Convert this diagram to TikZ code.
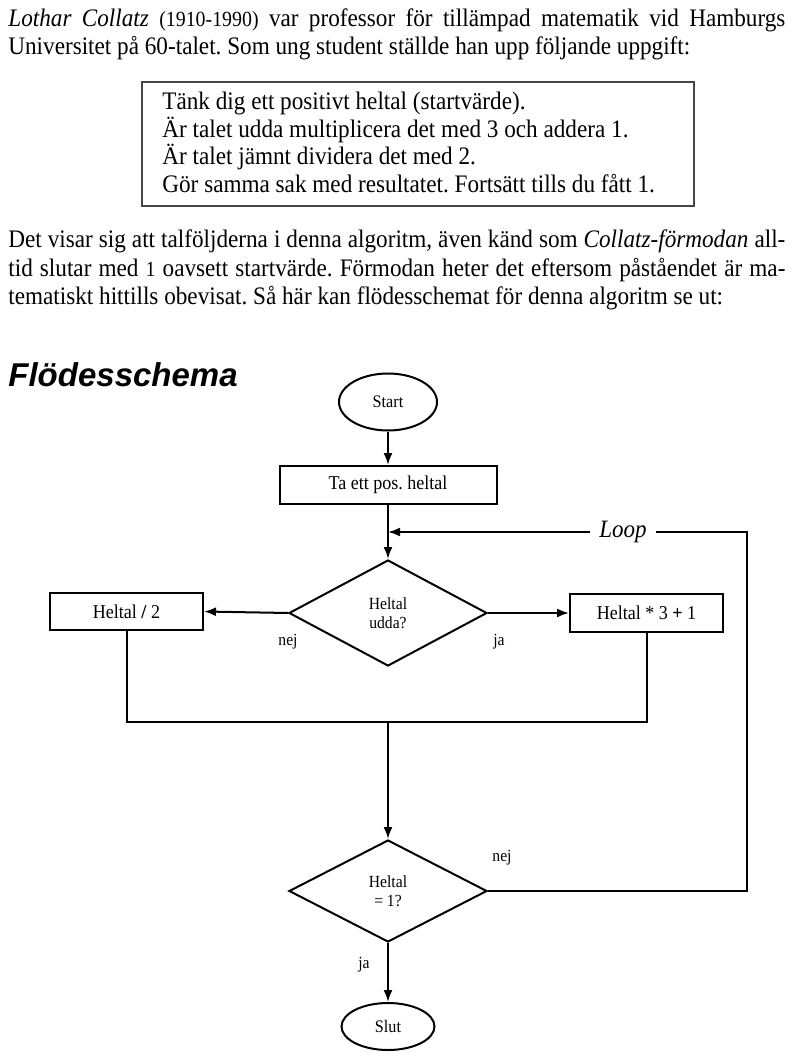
\documentclass[tikz,border=0pt]{standalone}
\usepackage{fontspec}
\setmainfont{Liberation Serif}[FakeStretch=0.92]
\newfontfamily\headfont{Liberation Sans}
\usetikzlibrary{shapes.geometric}
\usetikzlibrary{arrows.meta}
\frenchspacing

\tikzset{
  txtline/.style={anchor=base west, inner sep=0pt, font=\fontsize{12.6}{14}\selectfont},
  flow/.style={draw, line width=1pt, inner sep=0pt, align=center, font=\fontsize{9.8}{11}\selectfont},
  terminal/.style={flow, ellipse, font=\fontsize{8.8}{10}\selectfont},
  process/.style={flow, rectangle},
  decision/.style={flow, diamond, font=\fontsize{8.5}{9.5}\selectfont},
  conn/.style={line width=1pt},
  arr/.style={conn, -{Latex[length=6pt,width=4.5pt]}},
  lbl/.style={inner sep=0pt, font=\fontsize{8.5}{9.5}\selectfont},
}
\newcommand{\smallnum}[1]{{\fontsize{10.8}{14}\selectfont #1}}

\begin{document}
\begin{tikzpicture}[x=0.5pt,y=0.5pt,yscale=-1,xscale=1]
\useasboundingbox (0,0) rectangle (800,1064);

%Text: intro
\node[txtline] (intro1) at (8,27) {\makebox[388.5pt][s]{\textit{Lothar Collatz} \smallnum{(1910-1990)} var professor för tillämpad matematik vid Hamburgs}};
\node[txtline] (intro2) at (8,55) {Universitet på 60-talet. Som ung student ställde han upp följande uppgift:};

%Shape: Rectangle (task)
\draw [color={rgb, 255:red, 70; green, 70; blue, 70 }, line width=1pt] (142,82) rectangle (694,206);
\node[txtline] (task1) at (162,110) {Tänk dig ett positivt heltal (startvärde).};
\node[txtline] (task2) at (162,138) {Är talet udda multiplicera det med 3 och addera 1.};
\node[txtline] (task3) at (162,165) {Är talet jämnt dividera det med 2.};
\node[txtline] (task4) at (162,193) {Gör samma sak med resultatet. Fortsätt tills du fått 1.};

%Text: paragraph
\node[txtline] (para1) at (8,248) {\makebox[388.5pt][s]{Det visar sig att talföljderna i denna algoritm, även känd som \textit{Collatz-förmodan} all-}};
\node[txtline] (para2) at (8,276) {\makebox[388.5pt][s]{tid slutar med \smallnum{1} oavsett startvärde. Förmodan heter det eftersom påståendet är ma-}};
\node[txtline] (para3) at (8,304) {tematiskt hittills obevisat. Så här kan flödesschemat för denna algoritm se ut:};

%Text: heading
\node[anchor=base west, inner sep=0pt, font=\headfont\bfseries\itshape\fontsize{16.5}{18}\selectfont] (head) at (8,386) {Flödesschema};

%Flowchart: Terminator
\node[terminal, minimum width=49pt, minimum height=28.5pt] (start) at (388,402) {Start};
%Flowchart: Process
\node[process, minimum width=108.5pt, minimum height=19pt] (take) at (388,485) {Ta ett pos. heltal};
%Flowchart: Decision
\node[decision, minimum width=99pt, minimum height=53pt] (odd) at (388,613) {Heltal\\udda?};
%Flowchart: Process
\node[process, minimum width=76.5pt, minimum height=18.5pt] (half) at (126.5,611.5) {Heltal \textbf{/} 2};
%Flowchart: Process
\node[process, minimum width=76.5pt, minimum height=19pt] (triple) at (646.5,613) {Heltal * 3 \textbf{+} 1};
%Flowchart: Decision
\node[decision, minimum width=99pt, minimum height=51pt] (one) at (388,891) {Heltal\\= 1?};
%Flowchart: Terminator
\node[terminal, minimum width=46.5pt, minimum height=23.5pt] (stop) at (388,1026.5) {Slut};

\coordinate (loopin) at (388,532);
\coordinate (loopcorner) at (747,532);
\coordinate (merge) at (388,722);

%Connectors
\draw[arr] (start) -- (take);
\draw[arr] (take) -- (odd);
\draw[arr] (odd.west) -- (half.east);
\draw[arr] (odd.east) -- (triple.west);
\draw[conn] (half.south) -- (half.south |- merge) -- (triple.south |- merge) -- (triple.south);
\draw[arr] (merge) -- (one.north);
\draw[arr] (one.south) -- (stop.north);
\draw[arr] (one.east) -| (loopcorner) -- (loopin);
\node[fill=white, inner xsep=4.5pt, inner ysep=1pt, font=\fontsize{12.5}{13}\selectfont] (looplbl) at (623,532) {\textit{Loop}};

%Labels
\node[lbl] (nej1) at (288,642) {nej};
\node[lbl] (ja1) at (499,642) {ja};
\node[lbl] (nej2) at (502,858) {nej};
\node[lbl] (ja2) at (364,965) {ja};

\end{tikzpicture}
\end{document}
